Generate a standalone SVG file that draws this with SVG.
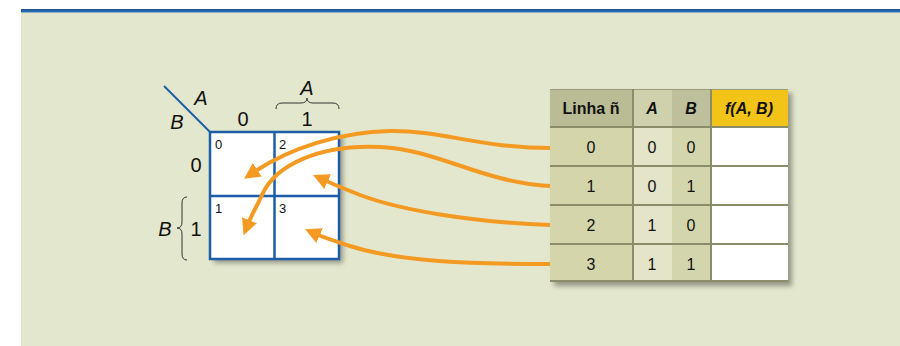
<svg xmlns="http://www.w3.org/2000/svg" width="900" height="346" viewBox="0 0 900 346">
  <defs>
    <style>
      .lbl { font-family: "Liberation Sans", Arial, sans-serif; fill: #111; }
      .big { font-size: 20px; }
      .it { font-style: italic; }
      .cellno { font-size: 13px; }
      .grid { fill: none; stroke: #1c5ea8; stroke-width: 2.5; }
      .brace { fill: none; stroke: #333; stroke-width: 1; }
      .arrow { fill: none; stroke: #f49a22; stroke-width: 4; marker-end: url(#head); }
      .th { font-size: 16px; font-weight: bold; text-anchor: middle; }
      .td { font-size: 16px; text-anchor: middle; }
      .sep { stroke: #8a8c6a; stroke-width: 2; }
    </style>
    <marker id="head" markerUnits="userSpaceOnUse" markerWidth="20" markerHeight="18" refX="4" refY="8" orient="auto">
      <path d="M0,0 L16,8 L0,16 z" fill="#f49a22"/>
    </marker>
    <filter id="shadow" x="-10%" y="-10%" width="130%" height="130%">
      <feDropShadow dx="4" dy="4" stdDeviation="2.5" flood-color="#000" flood-opacity="0.35"/>
    </filter>
    <linearGradient id="rule" x1="0" y1="0" x2="0" y2="1">
      <stop offset="0" stop-color="#174f95"/>
      <stop offset="1" stop-color="#2f78c0"/>
    </linearGradient>
  </defs>

  <!-- page panel -->
  <rect x="21" y="12" width="879" height="334" fill="#e3e7cd"/>
  <rect x="21" y="9" width="879" height="3.5" fill="url(#rule)"/>

  <!-- Karnaugh map -->
  <g id="kmap">
    <rect x="210" y="132" width="129" height="127" fill="#fff" filter="url(#shadow)"/>
    <rect class="grid" x="210" y="132" width="129" height="127"/>
    <line class="grid" x1="274.5" y1="132" x2="274.5" y2="259"/>
    <line class="grid" x1="210" y1="196" x2="339" y2="196"/>
    <line x1="164" y1="86" x2="210" y2="132" stroke="#1c5ea8" stroke-width="2"/>
    <text class="lbl cellno" x="215" y="149">0</text>
    <text class="lbl cellno" x="279" y="149">2</text>
    <text class="lbl cellno" x="215" y="213">1</text>
    <text class="lbl cellno" x="279" y="213">3</text>
  </g>

  <g id="kmap-labels">
    <text class="lbl big it" x="201" y="105" text-anchor="middle">A</text>
    <text class="lbl big it" x="177" y="129" text-anchor="middle">B</text>
    <text class="lbl big" x="243" y="126" text-anchor="middle">0</text>
    <text class="lbl big" x="307" y="126" text-anchor="middle">1</text>
    <text class="lbl big it" x="307" y="95" text-anchor="middle">A</text>
    <path class="brace" d="M276,109 Q276,103 282,103 L301,103 Q307,103 307,98 Q307,103 313,103 L333,103 Q339,103 339,109"/>
    <text class="lbl big" x="196" y="172" text-anchor="middle">0</text>
    <text class="lbl big" x="196" y="236" text-anchor="middle">1</text>
    <text class="lbl big it" x="165" y="236" text-anchor="middle">B</text>
    <path class="brace" d="M187,197 Q182,197 182,203 L182,222 Q182,228 177,228 Q182,228 182,234 L182,254 Q182,260 187,260"/>
  </g>

  <!-- truth table -->
  <g id="table">
    <rect x="550" y="89" width="238" height="193" fill="#fff" filter="url(#shadow)"/>
    <!-- header -->
    <rect x="550" y="89" width="83" height="38" fill="#b9bc94"/>
    <rect x="633" y="89" width="39" height="38" fill="#cfd1ac"/>
    <rect x="672" y="89" width="39" height="38" fill="#bdc09b"/>
    <rect x="711" y="89" width="77" height="38" fill="#f2c417"/>
    <!-- body -->
    <rect x="550" y="127" width="83" height="155" fill="#d4d5ab"/>
    <rect x="633" y="127" width="39" height="155" fill="#e3e4c8"/>
    <rect x="672" y="127" width="39" height="155" fill="#d3d5ac"/>
    <rect x="711" y="127" width="77" height="155" fill="#fff"/>
    <!-- rules -->
    <line x1="550" y1="89.5" x2="788" y2="89.5" stroke="#9a9c7c" stroke-width="1"/>
    <line class="sep" x1="550" y1="127" x2="788" y2="127" stroke="#6f7254"/>
    <line class="sep" x1="550" y1="166" x2="788" y2="166"/>
    <line class="sep" x1="550" y1="205" x2="788" y2="205"/>
    <line class="sep" x1="550" y1="244" x2="788" y2="244"/>
    <line class="sep" x1="550" y1="281" x2="788" y2="281"/>
    <line class="sep" x1="633" y1="89" x2="633" y2="282"/>
    <line class="sep" x1="711" y1="89" x2="711" y2="282"/>

    <text class="lbl th" x="591" y="114">Linha ñ</text>
    <text class="lbl th it" x="652" y="114">A</text>
    <text class="lbl th it" x="691" y="114">B</text>
    <text class="lbl th it" x="749" y="114">f(A, B)</text>

    <text class="lbl td" x="591" y="153">0</text>
    <text class="lbl td" x="652" y="153">0</text>
    <text class="lbl td" x="691" y="153">0</text>
    <text class="lbl td" x="591" y="192">1</text>
    <text class="lbl td" x="652" y="192">0</text>
    <text class="lbl td" x="691" y="192">1</text>
    <text class="lbl td" x="591" y="231">2</text>
    <text class="lbl td" x="652" y="231">1</text>
    <text class="lbl td" x="691" y="231">0</text>
    <text class="lbl td" x="591" y="270">3</text>
    <text class="lbl td" x="652" y="270">1</text>
    <text class="lbl td" x="691" y="270">1</text>
  </g>

  <!-- connectors: table rows to map cells -->
  <g id="connectors">
    <path class="arrow" d="M550,148 C480,148 440,130 390,131 C340,132 290,148 254,172"/>
    <path class="arrow" d="M550,186 C480,182 440,150 380,147 C320,144 275,165 262,195 C257,206 252,214 248,224"/>
    <path class="arrow" d="M550,225 C470,222 400,210 360,195 C345,189 335,185 324,180"/>
    <path class="arrow" d="M550,264 C470,264 400,262 350,246 C335,241 325,238 316,234"/>
  </g>
</svg>
